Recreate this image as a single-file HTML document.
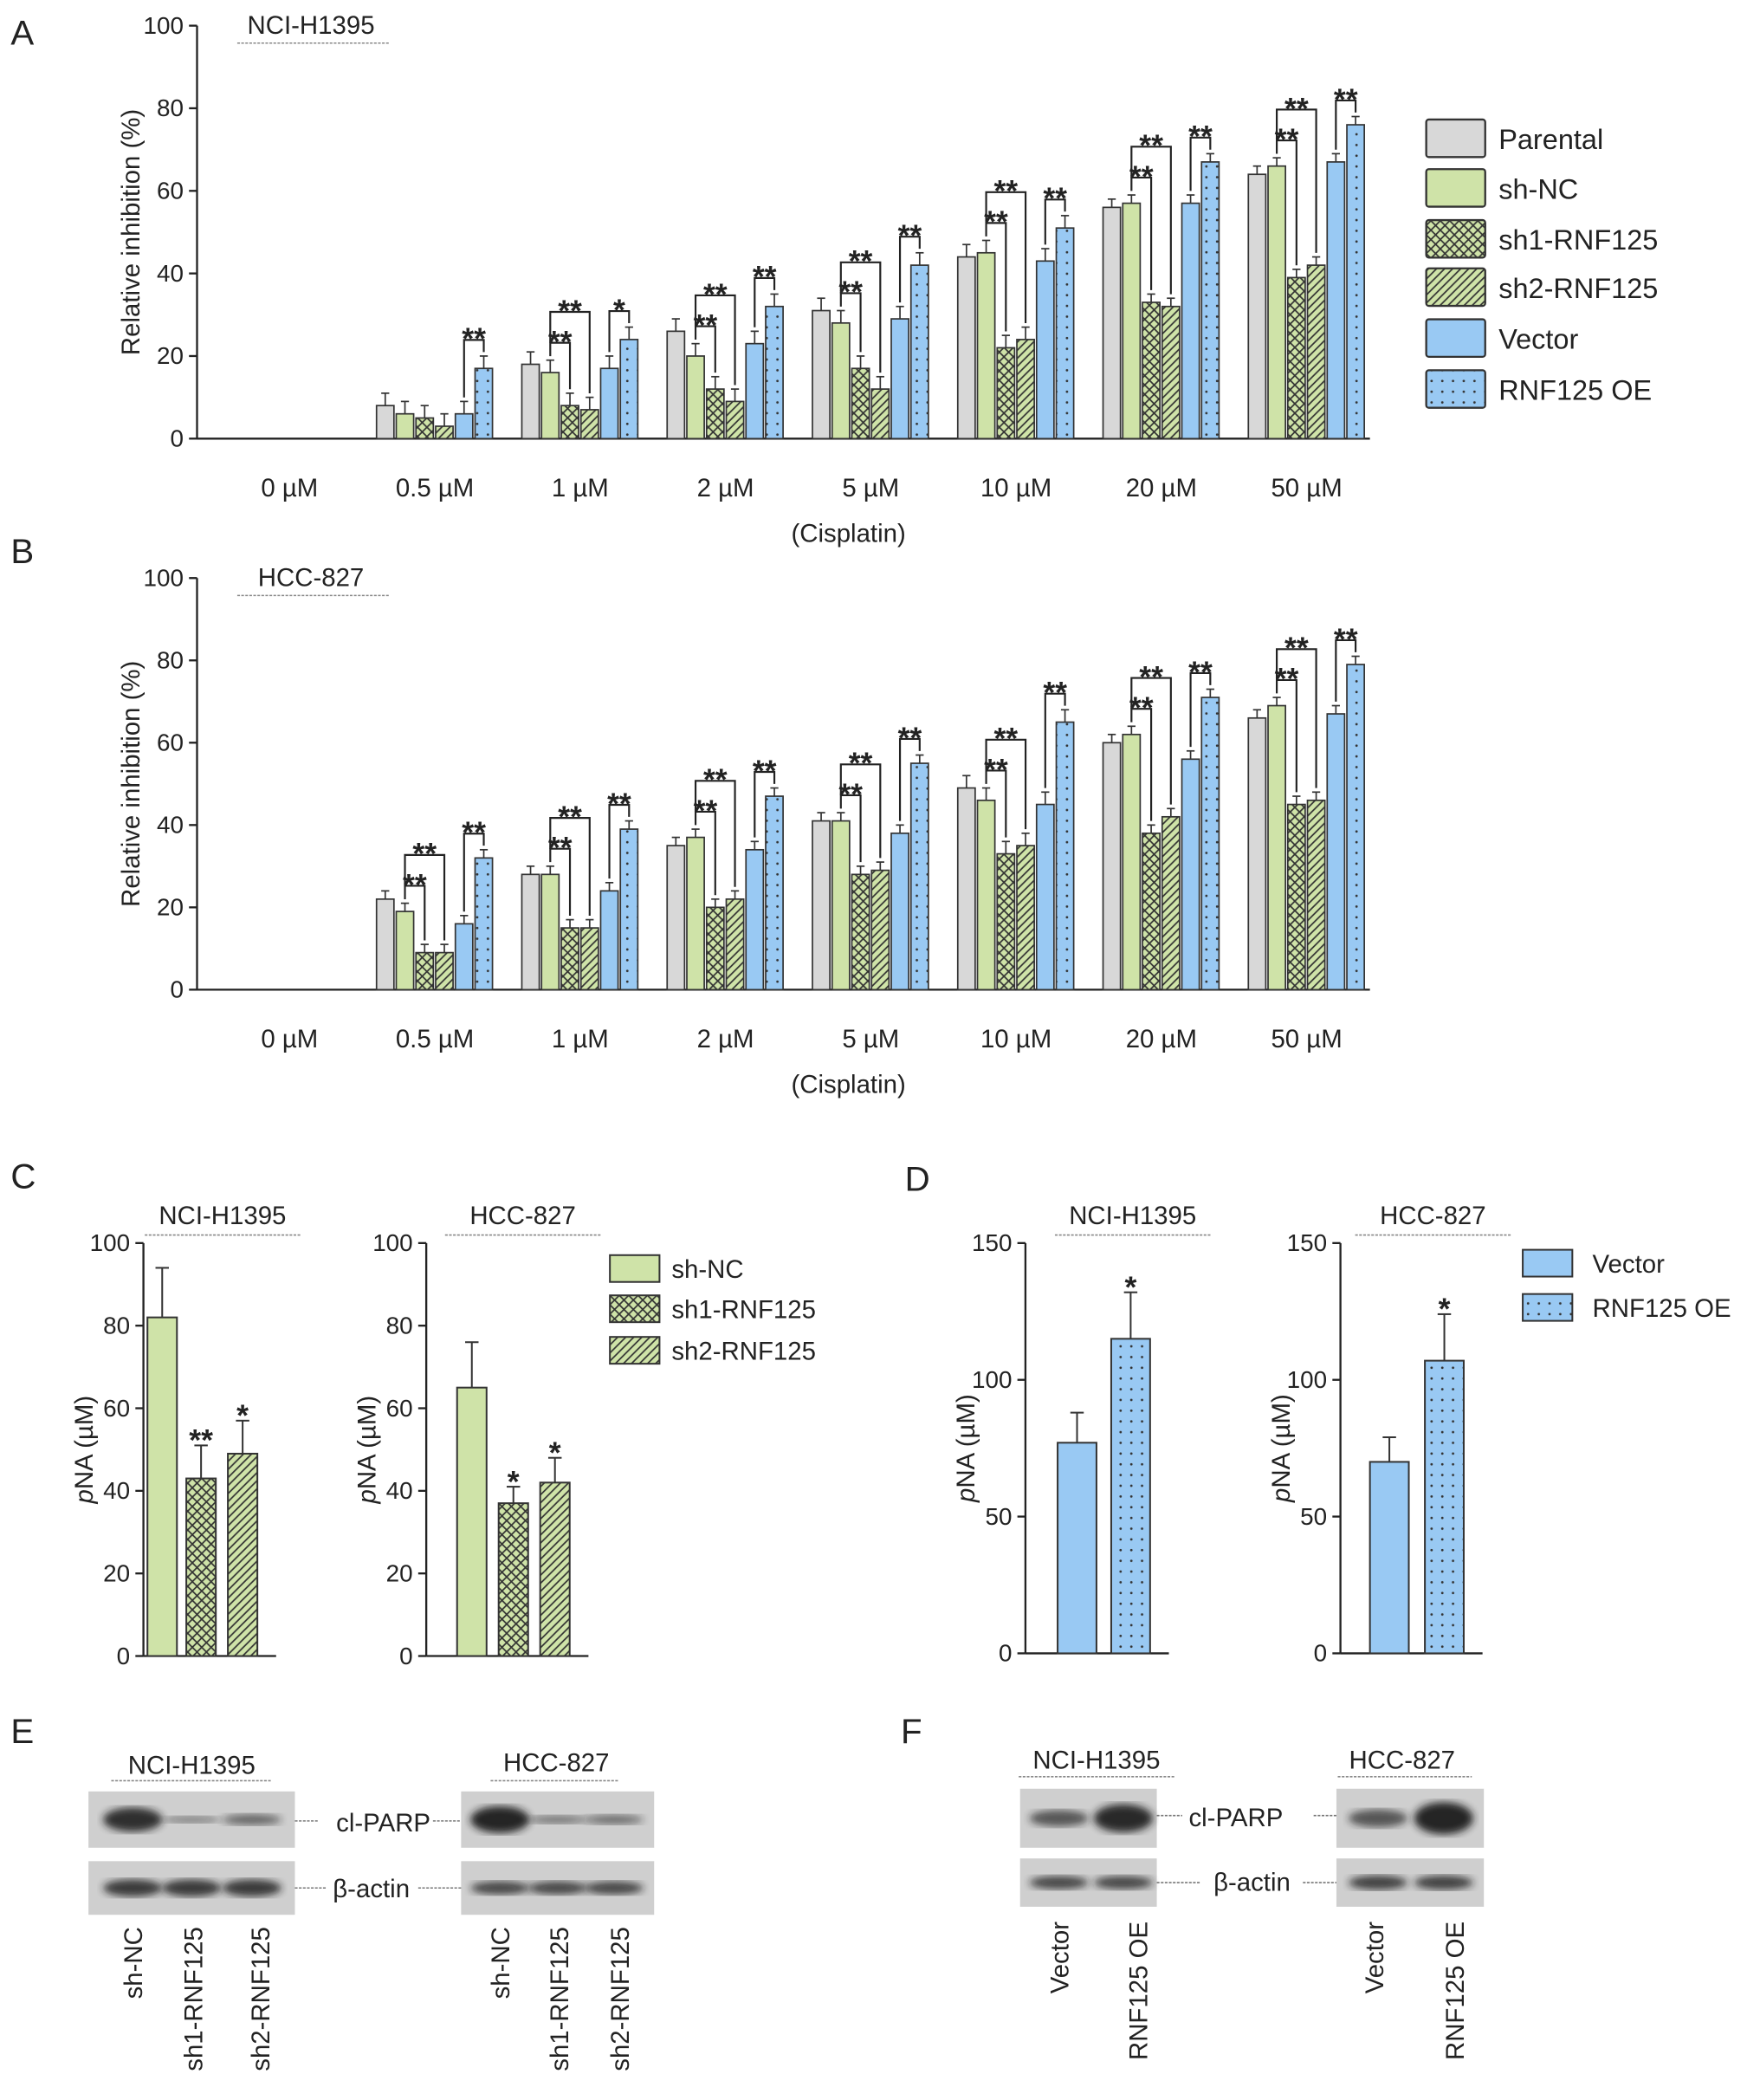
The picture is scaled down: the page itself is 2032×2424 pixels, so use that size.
<!DOCTYPE html>
<html><head><meta charset="utf-8"><style>
html,body{margin:0;padding:0;background:#fff}
svg{display:block}
text{font-family:"Liberation Sans",Arial,sans-serif;fill:#222}
</style></head><body>
<svg id="fig" xmlns="http://www.w3.org/2000/svg" width="2032" height="2424" viewBox="0 0 1313 1566">
<defs>
<pattern id="pX" width="7" height="7" patternUnits="userSpaceOnUse"><rect width="7" height="7" fill="#cfe3a8"/><path d="M0,7 L7,0 M0,0 L7,7" stroke="#333" stroke-width="1.1"/></pattern>
<pattern id="pD" width="6" height="6" patternUnits="userSpaceOnUse"><rect width="6" height="6" fill="#cfe3a8"/><path d="M-1,7 L7,-1 M-1,1 L1,-1 M5,7 L7,5" stroke="#333" stroke-width="1.1"/></pattern>
<pattern id="pO" width="8" height="8" patternUnits="userSpaceOnUse"><rect width="8" height="8" fill="#99c9f3"/><circle cx="4" cy="4" r="0.9" fill="#333"/></pattern>
<filter id="blur"><feGaussianBlur stdDeviation="3"/></filter>
</defs>
<g id="root"></g>
</svg>
<script>
// ---- Panel A/B data ----
const doses = ["0 µM","0.5 µM","1 µM","2 µM","5 µM","10 µM","20 µM","50 µM"];
const seriesNames = ["Parental","sh-NC","sh1-RNF125","sh2-RNF125","Vector","RNF125 OE"];
const aParental = [0,8,18,26,31,44,56,64];
const aShNC     = [0,6,16,20,28,45,57,66];
const aSh1      = [0,5,8,12,17,22,33,39];
const aSh2      = [0,3,7,9,12,24,32,42];
const aVector   = [0,6,17,23,29,43,57,67];
const aOE       = [0,17,24,32,42,51,67,76];
const aErr      = [0,3,3,3,3,3,2,2];
const aSigSh    = [0,0,1,1,1,1,1,1];
const aSigOE    = ["","**","*","**","**","**","**","**"];
const bParental = [0,22,28,35,41,49,60,66];
const bShNC     = [0,19,28,37,41,46,62,69];
const bSh1      = [0,9,15,20,28,33,38,45];
const bSh2      = [0,9,15,22,29,35,42,46];
const bVector   = [0,16,24,34,38,45,56,67];
const bOE       = [0,32,39,47,55,65,71,79];
const bErr      = [0,2,2,2,2,3,2,2];
const bSigSh    = [0,1,1,1,1,1,1,1];
const bSigOE    = ["","**","**","**","**","**","**","**"];
const yTicks = [0,20,40,60,80,100];
// ---- Panel C/D data ----
const cNames = ["sh-NC","sh1-RNF125","sh2-RNF125"];
const cH1395 = [82,43,49]; const cH1395Err=[12,8,8]; const cH1395Sig=["","**","*"];
const cHCC   = [65,37,42]; const cHCCErr=[11,4,6]; const cHCCSig=["","*","*"];
const dNames = ["Vector","RNF125 OE"];
const dH1395 = [77,115]; const dH1395Err=[11,17]; const dH1395Sig=["","*"];
const dHCC   = [70,107]; const dHCCErr=[9,17]; const dHCCSig=["","*"];
const cTicks=[0,20,40,60,80,100]; const dTicks=[0,50,100,150];

const NS="http://www.w3.org/2000/svg";
const root=document.getElementById('root');
function el(tag,attrs,parent,txt){const e=document.createElementNS(NS,tag);for(const k in attrs)e.setAttribute(k,attrs[k]);if(txt!==undefined)e.textContent=txt;(parent||root).appendChild(e);return e;}
const fills=["#d8d8d8","#cfe3a8","url(#pX)","url(#pD)","#99c9f3","url(#pO)"];

function panelLabel(t,x,y){const e=el('text',{x:x,y:y,'font-size':26},root,t);

}

function star(g,x,l,txt){
  const t=el('text',{x:x,y:l+7,'font-size':23,'font-weight':'bold','text-anchor':'middle'},g,txt);
  
  
}

function groupChart(name,y0,y100,vals,err,sigSh,sigOE,title){
  const g=el('g',{});
  
  
  const ax=147, xEnd=1022;
  const ys=v=>y0-(y0-y100)*v/100;
  const gx=i=>216+i*108.4;
  const bx=(i,s)=>gx(i)-37+s*14.7-6.5;
  el('line',{x1:ax,y1:y100,x2:ax,y2:y0,stroke:'#222','stroke-width':1.5},g);
  el('line',{x1:ax,y1:y0,x2:xEnd,y2:y0,stroke:'#222','stroke-width':1.5},g);
  yTicks.forEach(t=>{el('line',{x1:ax-6,y1:ys(t),x2:ax,y2:ys(t),stroke:'#222','stroke-width':1.5},g);
    const tx=el('text',{x:ax-10,y:ys(t)+6,'font-size':18,'text-anchor':'end'},g,t);
    
    });
  const yt=el('text',{x:0,y:0,'font-size':19,'text-anchor':'middle',transform:`translate(104,${(y0+y100)/2}) rotate(-90)`},g,'Relative inhibition (%)');
  
  
  doses.forEach((d,i)=>{const t=el('text',{x:gx(i),y:y0+43,'font-size':19,'text-anchor':'middle'},g,d);
    
    });
  const xt=el('text',{x:633,y:y0+77,'font-size':19,'text-anchor':'middle'},g,'(Cisplatin)');
  
  
  const tt=el('text',{x:232,y:y100+6,'font-size':19,'text-anchor':'middle'},g,title);
  
  
  el('line',{x1:177,y1:y100+13,x2:290,y2:y100+13,stroke:'#888','stroke-width':1,'stroke-dasharray':'2,1'},g);
  doses.forEach((d,i)=>{
    const tops=[];
    vals.forEach((arr,s)=>{
      const v=arr[i]; if(v<=0){tops.push(y0);return;}
      const x=bx(i,s), y=ys(v);
      const r=el('rect',{x:x,y:y,width:13,height:y0-y,fill:fills[s],stroke:'#333','stroke-width':1.1},g);
      
      
      const e=ys(v+err[i]);
      el('line',{x1:x+6.5,y1:y,x2:x+6.5,y2:e,stroke:'#333','stroke-width':1.1},g);
      el('line',{x1:x+3.5,y1:e,x2:x+9.5,y2:e,stroke:'#333','stroke-width':1.1},g);
      tops.push(e);
    });
    const cx=s=>bx(i,s)+6.5;
    if(sigSh[i]){
      const l1=tops[1]-13, l2=tops[1]-36;
      el('path',{d:`M${cx(1)},${tops[1]-3}V${l1}H${cx(2)}V${tops[2]-3}`,fill:'none',stroke:'#222','stroke-width':1.4},g);
      el('path',{d:`M${cx(1)},${l1}V${l2}H${cx(3)}V${tops[3]-3}`,fill:'none',stroke:'#222','stroke-width':1.4},g);
      star(g,(cx(1)+cx(2))/2,l1,'**');
      star(g,(cx(1)+cx(3))/2,l2,'**');
    }
    if(sigOE[i]){
      const l=Math.min(tops[4],tops[5])-12;
      el('path',{d:`M${cx(4)},${tops[4]-3}V${l}H${cx(5)}V${tops[5]-3}`,fill:'none',stroke:'#222','stroke-width':1.4},g);
      star(g,(cx(4)+cx(5))/2,l,sigOE[i]);
    }
  });
}
panelLabel('A',8,33);
groupChart('chart-a',327,19,[aParental,aShNC,aSh1,aSh2,aVector,aOE],aErr,aSigSh,aSigOE,'NCI-H1395');
panelLabel('B',8,420);
groupChart('chart-b',738,431,[bParental,bShNC,bSh1,bSh2,bVector,bOE],bErr,bSigSh,bSigOE,'HCC-827');
const legY=[103,140,178,214,252,290];
seriesNames.forEach((n,s)=>{
  const r=el('rect',{x:1064,y:legY[s]-14,width:44,height:28,fill:fills[s],stroke:'#333','stroke-width':1.5,rx:2});
  
  
  const t=el('text',{x:1118,y:legY[s]+8,'font-size':21},root,n);
  
  
});

function smallChart(name,ax,y0,ytop,max,ticks,bxs,bw,vals,errs,sigs,fl,title,tx){
  const g=el('g',{});
  
  
  const ys=v=>y0-(y0-ytop)*v/max;
  el('line',{x1:ax,y1:ytop,x2:ax,y2:y0,stroke:'#222','stroke-width':1.5},g);
  el('line',{x1:ax,y1:y0,x2:bxs[bxs.length-1]+bw+14,y2:y0,stroke:'#222','stroke-width':1.5},g);
  ticks.forEach(t=>{el('line',{x1:ax-6,y1:ys(t),x2:ax,y2:ys(t),stroke:'#222','stroke-width':1.5},g);
    const l=el('text',{x:ax-10,y:ys(t)+6,'font-size':18,'text-anchor':'end'},g,t);
    
    });
  const yt=el('text',{x:0,y:0,'font-size':19,'text-anchor':'middle',transform:`translate(${ax-38},${(y0+ytop)/2}) rotate(-90)`},g);
  el('tspan',{'font-style':'italic'},yt,'p');el('tspan',{},yt,'NA (µM)');
  
  
  const t=el('text',{x:tx,y:ytop-14,'font-size':19,'text-anchor':'middle'},g,title);
  
  
  el('line',{x1:tx-58,y1:ytop-6,x2:tx+58,y2:ytop-6,stroke:'#888','stroke-width':1,'stroke-dasharray':'2,1'},g);
  vals.forEach((v,i)=>{
    const y=ys(v),x=bxs[i];
    const r=el('rect',{x:x,y:y,width:bw,height:y0-y,fill:fl[i],stroke:'#333','stroke-width':1.3},g);
    
    
    const e=ys(v+errs[i]);
    el('line',{x1:x+bw/2,y1:y,x2:x+bw/2,y2:e,stroke:'#333','stroke-width':1.3},g);
    el('line',{x1:x+bw/2-5,y1:e,x2:x+bw/2+5,y2:e,stroke:'#333','stroke-width':1.3},g);
    if(sigs[i]){const s=el('text',{x:x+bw/2,y:e+4,'font-size':23,'font-weight':'bold','text-anchor':'middle'},g,sigs[i]);
      
      }
  });
}
panelLabel('C',8,886);
smallChart('chart-c-h1395',107,1235,927,100,cTicks,[110,139,170],22,cH1395,cH1395Err,cH1395Sig,[fills[1],fills[2],fills[3]],'NCI-H1395',166);
smallChart('chart-c-hcc827',318,1235,927,100,cTicks,[341,372,403],22,cHCC,cHCCErr,cHCCSig,[fills[1],fills[2],fills[3]],'HCC-827',390);
const cLegY=[946,976,1007];
cNames.forEach((n,i)=>{const r=el('rect',{x:455,y:cLegY[i]-10,width:37,height:20,fill:fills[i+1],stroke:'#333','stroke-width':1.3});
  
  
  const t=el('text',{x:501,y:cLegY[i]+7,'font-size':19},root,n);
  
  });
panelLabel('D',675,888);
smallChart('chart-d-h1395',765,1233,927,150,dTicks,[789,829],29,dH1395,dH1395Err,dH1395Sig,[fills[4],fills[5]],'NCI-H1395',845);
smallChart('chart-d-hcc827',1000,1233,927,150,dTicks,[1022,1063],29,dHCC,dHCCErr,dHCCSig,[fills[4],fills[5]],'HCC-827',1069);
const dLegY=[942,975];
dNames.forEach((n,i)=>{const r=el('rect',{x:1136,y:dLegY[i]-10,width:37,height:20,fill:fills[i+4],stroke:'#333','stroke-width':1.3});
  
  
  const t=el('text',{x:1188,y:dLegY[i]+7,'font-size':19},root,n);
  
  });

function blot(name,x,y,w,h,lanes,ints,bh){
  const g=el('g',{});
  
  
  el('rect',{x:x,y:y,width:w,height:h,fill:'#cfcfcf'},g);
  lanes.forEach((lx,i)=>{el('ellipse',{cx:lx,cy:y+h/2,rx:22,ry:bh*ints[i],fill:'#1a1a1a',opacity:0.35+0.6*ints[i],filter:'url(#blur)'},g);});
}
panelLabel('E',8,1300);
panelLabel('F',672,1300);
function label(t,x,y,anchor,size,nm){const e=el('text',{x:x,y:y,'font-size':size||19,'text-anchor':anchor||'middle'},root,t);
  
  return e;}
function vlabel(t,x,y){const e=el('text',{x:0,y:0,'font-size':19,'text-anchor':'end',transform:`translate(${x},${y}) rotate(-90)`},root,t);
  
  }
label('NCI-H1395',143,1323,'middle',19,'blot-title');el('line',{x1:83,y1:1328,x2:203,y2:1328,stroke:'#888','stroke-dasharray':'2,1'});
label('HCC-827',415,1321,'middle',19,'blot-title');el('line',{x1:366,y1:1328,x2:462,y2:1328,stroke:'#888','stroke-dasharray':'2,1'});
blot('blot-e1-parp',66,1336,154,42,[99,143,188],[0.9,0.25,0.4],10);
blot('blot-e1-actin',66,1388,154,40,[99,143,188],[0.8,0.8,0.8],8);
blot('blot-e2-parp',344,1336,144,42,[373,416,458],[1,0.3,0.35],10);
blot('blot-e2-actin',344,1388,144,40,[373,416,458],[0.7,0.7,0.7],7);
label('cl-PARP',286,1366,'middle',19,'blot-label');label('β-actin',277,1415,'middle',19,'blot-label');
el('line',{x1:220,y1:1358,x2:238,y2:1358,stroke:'#777','stroke-dasharray':'2,1'});el('line',{x1:323,y1:1358,x2:344,y2:1358,stroke:'#777','stroke-dasharray':'2,1'});
el('line',{x1:220,y1:1408,x2:243,y2:1408,stroke:'#777','stroke-dasharray':'2,1'});el('line',{x1:312,y1:1408,x2:344,y2:1408,stroke:'#777','stroke-dasharray':'2,1'});
[[106,'sh-NC'],[151,'sh1-RNF125'],[201,'sh2-RNF125'],[380,'sh-NC'],[424,'sh1-RNF125'],[469,'sh2-RNF125']].forEach(a=>vlabel(a[1],a[0],1437));
label('NCI-H1395',818,1319,'middle',19,'blot-title');el('line',{x1:760,y1:1325,x2:876,y2:1325,stroke:'#888','stroke-dasharray':'2,1'});
label('HCC-827',1046,1319,'middle',19,'blot-title');el('line',{x1:998,y1:1325,x2:1098,y2:1325,stroke:'#888','stroke-dasharray':'2,1'});
blot('blot-f1-parp',761,1334,102,44,[790,838],[0.55,0.95],11);
blot('blot-f1-actin',761,1386,102,36,[790,838],[0.7,0.7],7);
blot('blot-f2-parp',997,1334,110,44,[1028,1077],[0.55,1],12);
blot('blot-f2-actin',997,1386,110,36,[1028,1077],[0.75,0.75],7);
label('cl-PARP',922,1362,'middle',19,'blot-label');label('β-actin',934,1410,'middle',19,'blot-label');
el('line',{x1:863,y1:1354,x2:882,y2:1354,stroke:'#777','stroke-dasharray':'2,1'});el('line',{x1:980,y1:1354,x2:997,y2:1354,stroke:'#777','stroke-dasharray':'2,1'});
el('line',{x1:863,y1:1404,x2:896,y2:1404,stroke:'#777','stroke-dasharray':'2,1'});el('line',{x1:972,y1:1404,x2:997,y2:1404,stroke:'#777','stroke-dasharray':'2,1'});
[[797,'Vector'],[856,'RNF125 OE'],[1032,'Vector'],[1092,'RNF125 OE']].forEach(a=>vlabel(a[1],a[0],1433));
</script>
</body></html>
